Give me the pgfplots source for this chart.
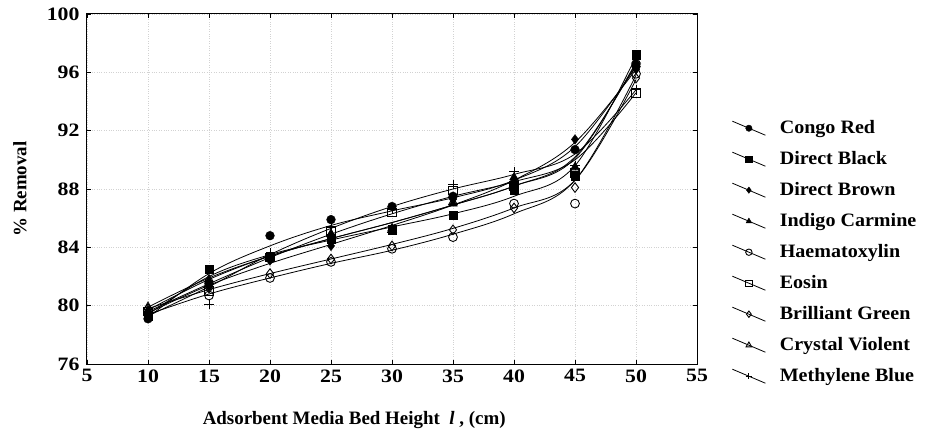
\documentclass[border=0pt]{standalone}
\usepackage{fontspec}
\setmainfont{Liberation Serif}
\newfontfamily\wideserif[FakeStretch=1.15]{Liberation Serif}
\newfontfamily\legserif[FakeStretch=1.06]{Liberation Serif}
\usepackage{pgfplots}
\usepackage{pgfplotstable}
\pgfplotsset{compat=1.18}
% measured marker positions
\pgfplotstableread{
x  cr   db   dbr  ic   hm   eo   bg   cv   mb
10 79.1 79.3 79.5 79.7 79.4 79.6 79.8 79.9 79.3
15 81.5 82.5 81.3 81.7 80.7 81.0 81.2 81.8 80.1
20 84.8 83.4 83.1 83.3 81.9 83.3 82.2 83.3 83.6
25 85.9 84.6 84.1 84.9 83.0 85.1 83.2 84.9 85.4
30 86.8 85.2 85.3 85.3 83.9 86.4 84.1 85.2 86.6
35 87.5 86.2 87.3 87.0 84.7 87.9 85.2 87.1 88.3
40 88.3 87.9 88.5 88.8 87.0 88.2 86.7 88.6 89.2
45 90.7 88.9 91.4 89.5 87.0 89.1 88.1 89.4 89.6
50 96.4 97.2 96.2 96.7 95.9 94.6 95.6 96.8 94.8
}\marks
% fitted curves
\pgfplotstableread{
x  cr   db   dbr  ic   hm   eo   bg   cv   mb
10 79.2 79.4 79.5 79.7 79.4 79.6 79.8 79.9 79.3
15 82.2 82.0 81.4 81.8 80.8 81.5 81.1 81.9 81.3
20 84.1 83.5 82.9 83.4 81.9 83.3 82.2 83.4 83.5
25 85.5 84.5 84.2 84.6 82.9 84.9 83.2 84.6 85.3
30 86.5 85.4 85.5 85.7 83.8 86.3 84.2 85.7 86.8
35 87.4 86.3 86.9 86.9 84.9 87.5 85.3 86.9 88.0
40 88.6 87.5 88.6 88.2 86.3 88.5 86.7 88.2 89.0
45 90.9 89.6 91.2 90.2 88.6 90.0 88.6 90.1 90.4
50 96.4 97.1 96.2 96.6 95.8 94.6 95.5 96.7 94.8
}\fits
\begin{document}
\begin{tikzpicture}
\begin{axis}[
  scale only axis, width=610bp, height=350bp,
  xmin=5, xmax=55, ymin=76, ymax=100,
  xtick={5,10,...,55}, ytick={76,80,...,100},
  tick align=inside, major tick length=4bp,
  axis line style={line width=1bp},
  tick style={line width=0.9bp, black},
  grid=major, major grid style={dotted, gray!35, line width=0.6bp},
  /pgf/number format/assume math mode=true,
  tick label style={font=\wideserif\bfseries\fontsize{19}{22}\selectfont},
  xticklabel style={yshift=-2bp},
  yticklabel style={xshift=-4bp},
  label style={font=\bfseries\fontsize{19}{22}\selectfont},
  xlabel={Adsorbent Media Bed Height~~\textit{l}~, (cm)},
  xlabel style={at={(rel axis cs:0.438,0)}, anchor=base, yshift=-60bp},
  ylabel={\% Removal},
  ylabel style={at={(rel axis cs:0,0.5)}, anchor=center, rotate=0, yshift=67bp},
  legend style={draw=none, fill=none, inner sep=0pt,
    at={(rel axis cs:1.057,0.70)}, anchor=north west,
    font=\legserif\bfseries\fontsize{19}{22}\selectfont,
    nodes={inner sep=0pt, text height=14bp, text depth=4bp},
    row sep=13bp,
    /tikz/every odd column/.append style={column sep=14bp}},
  legend cell align=left,
  legend image code/.code={%
    \draw[line width=0.8bp, black] (0bp,7bp)--(33bp,-7bp);
    \draw[#1, mark size=3.2bp] plot coordinates {(16.5bp,0bp)};},
]
% fitted lines
\foreach \c in {cr,db,dbr,ic,hm,eo,bg,cv,mb}{
  \addplot[smooth, tension=0.6, black, line width=0.8bp, forget plot, mark=none] table[x=x, y=\c] {\fits};
}
% markers
\addplot[only marks, black, mark=*, mark size=4.4bp] table[x=x, y=cr] {\marks};
\addlegendentry{Congo Red}
\addplot[only marks, black, mark=square*, mark size=4.2bp] table[x=x, y=db] {\marks};
\addlegendentry{Direct Black}
\addplot[only marks, black, mark=diamond*, mark size=4.8bp] table[x=x, y=dbr] {\marks};
\addlegendentry{Direct Brown}
\addplot[only marks, black, mark=triangle*, mark size=5bp] table[x=x, y=ic] {\marks};
\addlegendentry{Indigo Carmine}
\addplot[only marks, black, mark=o, mark options={fill=white, line width=0.9bp}, mark size=4.4bp] table[x=x, y=hm] {\marks};
\addlegendentry{Haematoxylin}
\addplot[only marks, black, mark=square, mark options={fill=white, line width=0.9bp}, mark size=4.2bp] table[x=x, y=eo] {\marks};
\addlegendentry{Eosin}
\addplot[only marks, black, mark=diamond, mark options={fill=white, line width=0.9bp}, mark size=4.8bp] table[x=x, y=bg] {\marks};
\addlegendentry{Brilliant Green}
\addplot[only marks, black, mark=triangle, mark options={fill=white, line width=0.9bp}, mark size=5bp] table[x=x, y=cv] {\marks};
\addlegendentry{Crystal Violent}
\addplot[only marks, black, mark=+, mark options={line width=0.9bp}, mark size=4.8bp] table[x=x, y=mb] {\marks};
\addlegendentry{Methylene Blue}
\end{axis}
\pgfresetboundingbox
\path[use as bounding box] ([xshift=-87bp,yshift=-65bp]current axis.south west) rectangle ([xshift=228bp,yshift=14bp]current axis.north east);
\end{tikzpicture}
\end{document}
